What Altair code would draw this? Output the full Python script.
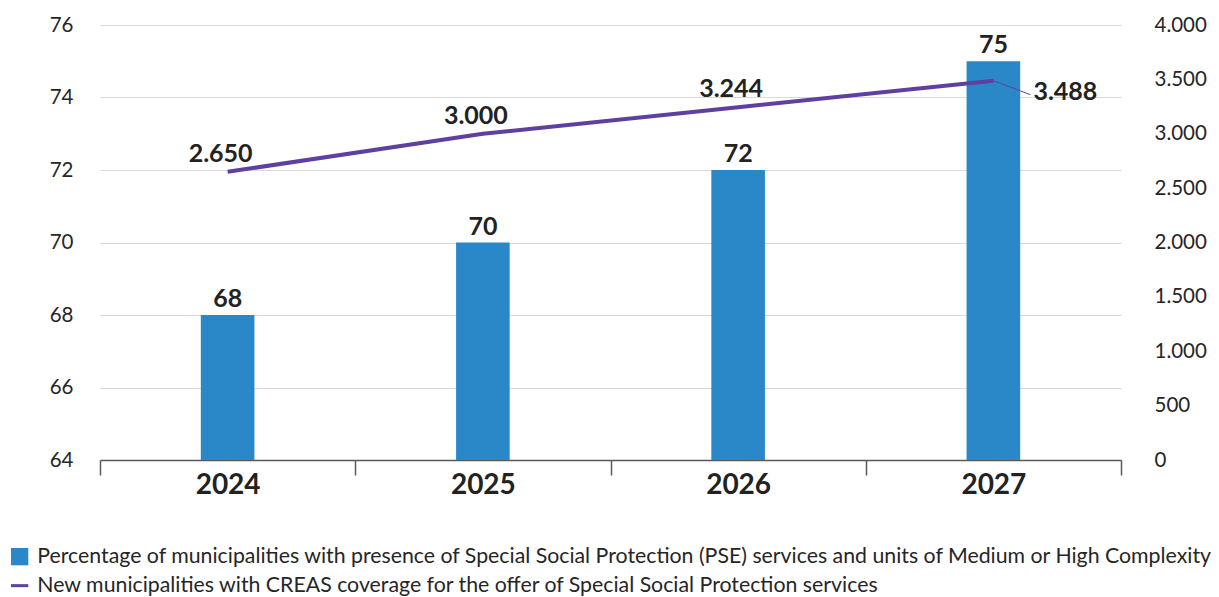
import altair as alt
import pandas as pd

years = ["2024", "2025", "2026", "2027"]
pct = [68, 70, 72, 75]
creas = [2650, 3000, 3244, 3488]
left_ticks = [64, 66, 68, 70, 72, 74, 76]
right_ticks = [0, 500, 1000, 1500, 2000, 2500, 3000, 3500, 4000]
bar_name = ("Percentage of municipalities with presence of Special Social Protection (PSE) "
            "services and units of Medium or High Complexity")
line_name = "New municipalities with CREAS coverage for the offer of Special Social Protection services"

BLUE = "#2B88C8"
PURPLE = "#5E40A0"
FONT = "Lato"

df = pd.DataFrame({
    "year": years,
    "pct": pct,
    "creas": creas,
    "creas_label": [f"{v:,}".replace(",", ".") for v in creas],
    "bar_series": bar_name,
    "line_series": line_name,
})

base = alt.Chart(df)

x = alt.X(
    "year:N", sort=years,
    scale=alt.Scale(paddingInner=0, paddingOuter=0),
    axis=alt.Axis(title=None, labelAngle=0, tickBand="extent", grid=False,
                  labelFont=FONT, labelFontSize=28, labelFontWeight="bold", labelColor="#222222",
                  labelBaseline="alphabetic", labelPadding=18,
                  tickSize=15, tickColor="#595959", tickWidth=1.5,
                  domainColor="#595959", domainWidth=1.5),
)

y_left = alt.Y(
    "pct:Q",
    scale=alt.Scale(domain=[64, 76], nice=False, zero=False),
    axis=alt.Axis(title=None, values=left_ticks, grid=True, gridColor="#d9d9d9", gridWidth=1,
                  ticks=False, domain=False, labelFont=FONT, labelFontSize=20.5,
                  labelColor="#262626", labelPadding=27),
)

y_right = alt.Y(
    "creas:Q",
    scale=alt.Scale(domain=[0, 4000], nice=False),
    axis=alt.Axis(title=None, orient="right", values=right_ticks, grid=False, ticks=False,
                  domain=False, labelFont=FONT, labelFontSize=20.5, labelColor="#262626",
                  labelPadding=33,
                  labelExpr="replace(format(datum.value, ','), ',', '.')"),
)

legend_common = dict(title=None, orient="none", legendX=-91, symbolSize=300,
                     labelFont=FONT, labelFontSize=21.3, labelColor="#262626",
                     labelOffset=7, labelLimit=0, padding=0)

bars = base.mark_bar(width=alt.RelativeBandSize(0.21)).encode(
    x=x, y=y_left, y2=alt.Y2(datum=left_ticks[0]),
    color=alt.Color("bar_series:N", scale=alt.Scale(domain=[bar_name], range=[BLUE]),
                    legend=alt.Legend(legendY=521, symbolType="square", symbolStrokeWidth=0,
                                      **legend_common)),
)

bar_text = base.mark_text(font=FONT, fontSize=25, fontWeight="bold", color="#222222",
                          baseline="alphabetic", dy=-8).encode(
    x=x, y=y_left, text="pct:Q")

left = alt.layer(bars, bar_text)

line = base.mark_line(strokeWidth=4).encode(
    x=x, y=y_right,
    stroke=alt.Stroke("line_series:N", scale=alt.Scale(domain=[line_name], range=[PURPLE]),
                      legend=alt.Legend(legendY=550, symbolType="stroke", symbolStrokeWidth=3,
                                        **legend_common)),
)

line_text = base.mark_text(font=FONT, fontSize=25, fontWeight="bold", color="#222222",
                           baseline="alphabetic", dx=-7, dy=-10).encode(
    x=x, y=y_right, text="creas_label:N").transform_filter(alt.datum.year != "2027")

last_text = base.mark_text(font=FONT, fontSize=25, fontWeight="bold", color="#222222",
                           baseline="alphabetic", align="left", dx=40, dy=19).encode(
    x=x, y=y_right, text="creas_label:N").transform_filter(alt.datum.year == "2027")

leader = base.mark_rule(color=PURPLE, strokeWidth=1, x2Offset=37, y2Offset=14).encode(
    x=x, x2=alt.X2("year:N"), y=y_right, y2=alt.Y2("creas:Q")
).transform_filter(alt.datum.year == "2027")

right = alt.layer(line, leader, line_text, last_text)

chart = alt.layer(left, right).resolve_scale(y="independent", color="independent").properties(
    width=1021, height=435,
    autosize=alt.AutoSizeParams(type="none"),
    padding={"left": 100, "top": 25, "right": 98, "bottom": 137},
).configure_view(stroke=None).configure_text(font=FONT)

chart.save("out.html", embed_options={"renderer": "svg", "actions": False})
